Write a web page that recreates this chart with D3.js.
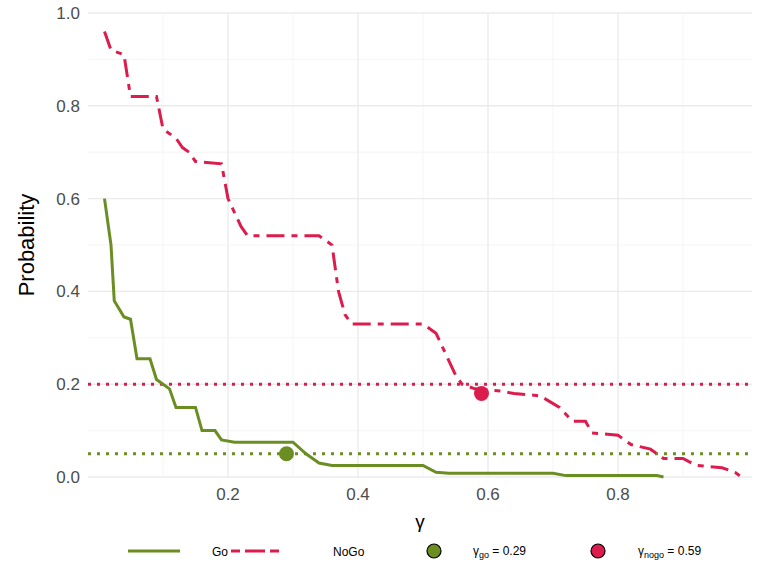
<!DOCTYPE html><html><head><meta charset="utf-8"><script src="https://cdn.jsdelivr.net/npm/d3@7"></script>
<style>body{margin:0;background:#fff}text{font-family:"Liberation Sans",Arial,sans-serif}</style></head><body><svg id="c" width="768" height="576"></svg>
<script>
const goX=[0.01,0.02,0.025,0.04,0.05,0.06,0.08,0.09,0.11,0.12,0.15,0.16,0.18,0.19,0.21,0.30,0.32,0.34,0.36,0.50,0.52,0.54,0.70,0.72,0.86,0.87];
const goY=[0.60,0.50,0.38,0.345,0.34,0.255,0.255,0.21,0.19,0.15,0.15,0.10,0.10,0.08,0.075,0.075,0.05,0.03,0.025,0.025,0.01,0.008,0.008,0.003,0.003,0.0];
const nogoX=[0.01,0.02,0.04,0.05,0.09,0.10,0.12,0.13,0.14,0.15,0.19,0.20,0.21,0.22,0.23,0.34,0.36,0.37,0.38,0.39,0.50,0.52,0.55,0.56,0.58,0.62,0.64,0.68,0.71,0.73,0.75,0.76,0.80,0.82,0.85,0.87,0.90,0.92,0.96,0.98,0.99];
const nogoY=[0.96,0.92,0.91,0.82,0.82,0.75,0.73,0.71,0.70,0.68,0.675,0.60,0.57,0.54,0.52,0.52,0.50,0.40,0.35,0.33,0.33,0.31,0.22,0.20,0.19,0.185,0.18,0.175,0.15,0.12,0.12,0.095,0.09,0.07,0.06,0.04,0.04,0.025,0.02,0.01,0.0];
const thresholds=[{y:0.2,c:"red"},{y:0.05,c:"green"}];
const opt=[{x:0.29,y:0.05,c:"green"},{x:0.59,y:0.18,c:"red"}];
const xTicks=[0.2,0.4,0.6,0.8], yTicks=[0,0.2,0.4,0.6,0.8,1.0];
const col={green:"#6B8E23",red:"#DC1C4C"};
const svg=d3.select("#c");
const x=d3.scaleLinear().domain([0,1]).range([98,748]);
const y=d3.scaleLinear().domain([0,1]).range([477,13]);
const L=88,R=752;
const g=svg.append("g");
[0.1,0.3,0.5,0.7,0.9].forEach(v=>g.append("line").attr("x1",x(v)).attr("x2",x(v)).attr("y1",477).attr("y2",13).attr("stroke","#f3f3f3").attr("stroke-width",0.8));
[0.1,0.3,0.5,0.7,0.9].forEach(v=>g.append("line").attr("x1",L).attr("x2",R).attr("y1",y(v)).attr("y2",y(v)).attr("stroke","#f3f3f3").attr("stroke-width",0.8));
xTicks.forEach(v=>g.append("line").attr("x1",x(v)).attr("x2",x(v)).attr("y1",477).attr("y2",13).attr("stroke","#ebebeb").attr("stroke-width",1.4));
yTicks.forEach(v=>g.append("line").attr("x1",L).attr("x2",R).attr("y1",y(v)).attr("y2",y(v)).attr("stroke","#ebebeb").attr("stroke-width",1.4));
thresholds.forEach(t=>svg.append("line").attr("x1",L).attr("x2",R).attr("y1",y(t.y)).attr("y2",y(t.y)).attr("stroke",col[t.c]).attr("stroke-width",3).attr("stroke-dasharray","3,6"));
const line=d3.line().x(d=>x(d[0])).y(d=>y(d[1]));
svg.append("path").attr("d",line(d3.zip(goX,goY))).attr("fill","none").attr("stroke",col.green).attr("stroke-width",3);
svg.append("path").attr("d",line(d3.zip(nogoX,nogoY))).attr("fill","none").attr("stroke",col.red).attr("stroke-width",3).attr("stroke-dasharray","18,7,6,7");
opt.forEach(p=>svg.append("circle").attr("cx",x(p.x)).attr("cy",y(p.y)).attr("r",7.5).attr("fill",col[p.c]));
xTicks.forEach(v=>svg.append("text").attr("x",x(v)).attr("y",500).attr("text-anchor","middle").attr("font-size",17).attr("fill","#4d4d4d").text(d3.format(".1f")(v)));
yTicks.forEach(v=>svg.append("text").attr("x",80).attr("y",y(v)+6).attr("text-anchor","end").attr("font-size",17).attr("fill","#4d4d4d").text(d3.format(".1f")(v)));
svg.append("text").attr("x",420).attr("y",528).attr("text-anchor","middle").attr("font-size",19).text("γ");
svg.append("text").attr("transform","translate(34,245) rotate(-90)").attr("text-anchor","middle").attr("font-size",22).text("Probability");
const ly=551;
svg.append("line").attr("x1",128).attr("x2",180).attr("y1",ly).attr("y2",ly).attr("stroke",col.green).attr("stroke-width",3);
svg.append("text").attr("x",212).attr("y",ly+5).attr("font-size",12).text("Go");
svg.append("line").attr("x1",231).attr("x2",279).attr("y1",ly).attr("y2",ly).attr("stroke",col.red).attr("stroke-width",3).attr("stroke-dasharray","9,5,20,5,9");
svg.append("text").attr("x",333).attr("y",ly+5).attr("font-size",12).text("NoGo");
svg.append("circle").attr("cx",434).attr("cy",ly).attr("r",7).attr("fill",col.green).attr("stroke","#000").attr("stroke-width",1.2);
const t1=svg.append("text").attr("x",427+46).attr("y",ly+4).attr("font-size",12);
t1.append("tspan").text("γ");t1.append("tspan").attr("font-size",9).attr("dy",3).text("go");t1.append("tspan").attr("dy",-3).text(" = 0.29");
svg.append("circle").attr("cx",598).attr("cy",ly).attr("r",7).attr("fill",col.red).attr("stroke","#000").attr("stroke-width",1.2);
const t2=svg.append("text").attr("x",638).attr("y",ly+4).attr("font-size",12);
t2.append("tspan").text("γ");t2.append("tspan").attr("font-size",9).attr("dy",3).text("nogo");t2.append("tspan").attr("dy",-3).text(" = 0.59");
</script></body></html>
